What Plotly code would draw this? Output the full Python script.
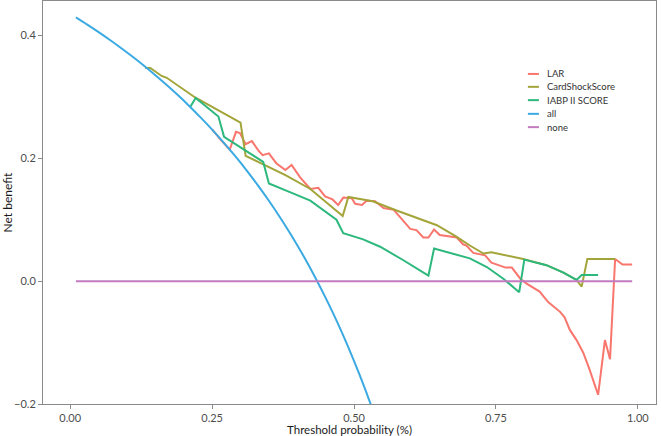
import plotly.graph_objects as go

# ---------------- data ----------------
thr_all = [0.01, 0.03, 0.05, 0.07, 0.09, 0.11, 0.13, 0.15, 0.17, 0.19, 0.21, 0.23, 0.25,
           0.27, 0.29, 0.31, 0.33, 0.35, 0.37, 0.39, 0.41, 0.43, 0.45, 0.47, 0.49, 0.51,
           0.53, 0.55]
nb_all = [0.4293, 0.4175, 0.4053, 0.3925, 0.3791, 0.3652, 0.3506, 0.3353, 0.3193, 0.3025,
          0.2848, 0.2662, 0.2467, 0.2260, 0.2042, 0.1812, 0.1567, 0.1308, 0.1032, 0.0738,
          0.0424, 0.0088, -0.0273, -0.0660, -0.1078, -0.1531, -0.2021, -0.2556]

thr_none = [0.01, 0.99]
nb_none = [0.0, 0.0]

thr_lar = [0.25, 0.264, 0.281, 0.292, 0.299, 0.309, 0.320, 0.332, 0.339, 0.350, 0.363,
           0.379, 0.390, 0.405, 0.423, 0.437, 0.449, 0.462, 0.472, 0.481, 0.496, 0.502,
           0.514, 0.522, 0.537, 0.552, 0.570, 0.599, 0.610, 0.622, 0.631, 0.641, 0.651,
           0.681, 0.692, 0.698, 0.710, 0.731, 0.742, 0.767, 0.778, 0.793, 0.804, 0.827,
           0.842, 0.863, 0.871, 0.880, 0.892, 0.904, 0.915, 0.930, 0.942, 0.951, 0.960,
           0.973, 0.990]
nb_lar = [0.247, 0.231, 0.214, 0.243, 0.241, 0.223, 0.228, 0.212, 0.205, 0.208, 0.192,
          0.181, 0.189, 0.169, 0.150, 0.152, 0.138, 0.133, 0.124, 0.136, 0.135, 0.126,
          0.124, 0.131, 0.130, 0.119, 0.116, 0.085, 0.083, 0.071, 0.071, 0.084, 0.075,
          0.071, 0.060, 0.058, 0.046, 0.042, 0.030, 0.022, 0.022, 0.004, -0.004, -0.017,
          -0.034, -0.050, -0.059, -0.079, -0.096, -0.117, -0.144, -0.185, -0.096, -0.127,
          0.036, 0.027, 0.027]

thr_cs = [0.132, 0.141, 0.161, 0.170, 0.220, 0.300, 0.309, 0.346, 0.380, 0.423, 0.455,
          0.480, 0.490, 0.533, 0.575, 0.610, 0.646, 0.681, 0.704, 0.728, 0.742, 0.798,
          0.839, 0.869, 0.892, 0.901, 0.911, 0.960]
nb_cs = [0.347, 0.347, 0.334, 0.331, 0.299, 0.258, 0.204, 0.188, 0.172, 0.150, 0.126,
         0.106, 0.137, 0.130, 0.115, 0.103, 0.091, 0.072, 0.058, 0.045, 0.047, 0.036,
         0.026, 0.014, 0.002, -0.009, 0.036, 0.036]

thr_iabp = [0.211, 0.221, 0.261, 0.271, 0.340, 0.350, 0.387, 0.423, 0.469, 0.481, 0.516,
            0.546, 0.587, 0.631, 0.641, 0.704, 0.734, 0.763, 0.791, 0.800, 0.839, 0.869,
            0.892, 0.901, 0.930]
nb_iabp = [0.283, 0.298, 0.268, 0.235, 0.194, 0.159, 0.145, 0.131, 0.100, 0.078, 0.068,
           0.056, 0.034, 0.009, 0.053, 0.037, 0.023, 0.004, -0.018, 0.035, 0.026, 0.014,
           0.002, 0.010, 0.010]

names = ["LAR", "CardShockScore", "IABP II SCORE", "all", "none"]
colors = ["#F8766D", "#A3A53A", "#2DB87D", "#3BAAE2", "#C27BC0"]

x_ticks = [0, 0.25, 0.5, 0.75, 1.0]
y_ticks = [-0.2, 0.0, 0.2, 0.4]

FONT = "Lato, 'Open Sans', sans-serif"

series = [(thr_lar, nb_lar), (thr_cs, nb_cs), (thr_iabp, nb_iabp),
          (thr_all, nb_all), (thr_none, nb_none)]
shapes = ["linear", "linear", "linear", "spline", "linear"]

fig = go.Figure()
for (xs, ys), nm, col, shp in zip(series, names, colors, shapes):
    fig.add_trace(go.Scatter(x=xs, y=ys, mode="lines", name=nm,
                             line=dict(color=col, width=2, shape=shp),
                             showlegend=False))

# custom compact legend (decoration)
leg_y = [0.819, 0.787, 0.754, 0.720, 0.687]
for nm, col, yy in zip(names, colors, leg_y):
    fig.add_shape(type="line", xref="paper", yref="paper", x0=0.791, x1=0.809,
                  y0=yy, y1=yy, line=dict(color=col, width=2))
    fig.add_annotation(xref="paper", yref="paper", x=0.819, y=yy, text=nm,
                       showarrow=False, xanchor="left", yanchor="middle",
                       font=dict(family=FONT, size=9.5, color="#333333"))

axis_common = dict(showline=True, linecolor="#8a8a8a", linewidth=1, mirror=True,
                   showgrid=False, zeroline=False, ticks="outside", ticklen=4,
                   tickcolor="#8a8a8a",
                   tickfont=dict(family=FONT, size=11, color="#4d4d4d"))

fig.update_layout(
    width=661, height=436,
    margin=dict(l=43, r=5, t=1, b=32),
    plot_bgcolor="white", paper_bgcolor="white",
    xaxis=dict(range=[-0.048, 1.032], tickvals=x_ticks, tickformat=".2f",
               title=dict(text="Threshold probability (%)", standoff=3,
                          font=dict(family=FONT, size=11.5, color="#1a1a1a")),
               **axis_common),
    yaxis=dict(range=[-0.2, 0.456], tickvals=y_ticks, tickformat=".1f",
               title=dict(text="Net benefit", standoff=5,
                          font=dict(family=FONT, size=12, color="#1a1a1a")),
               **axis_common),
)

fig.write_html("out.html")
